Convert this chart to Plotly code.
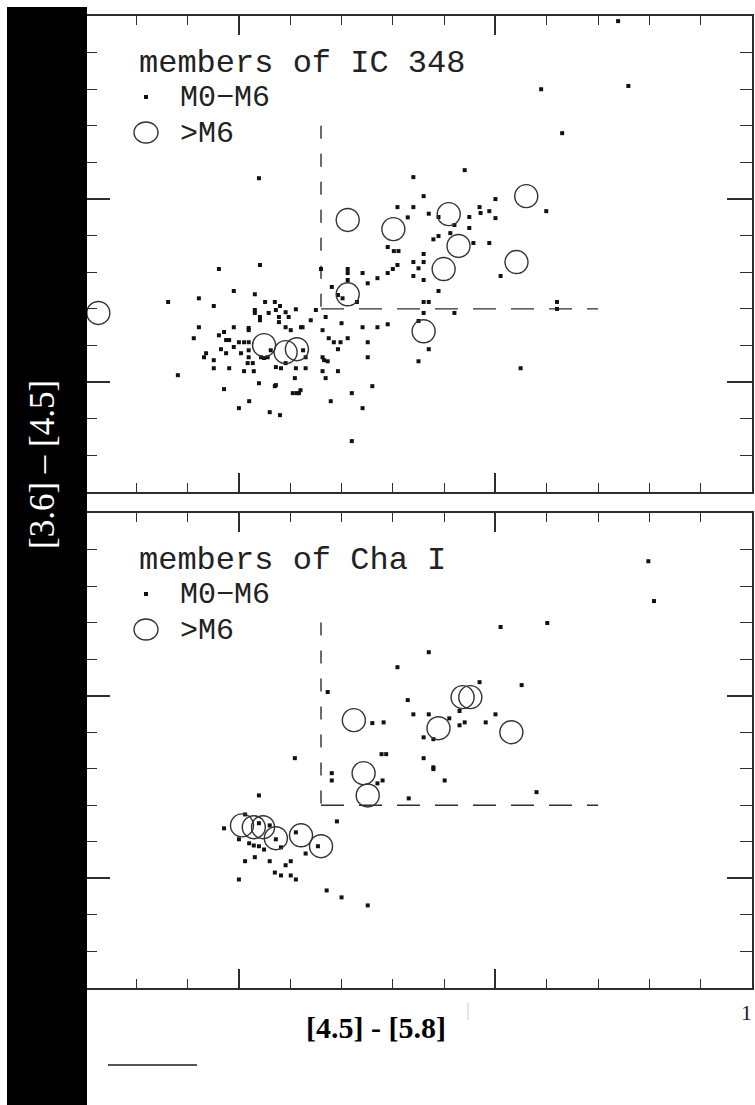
import plotly.graph_objects as go

# ---------------- data ----------------
# IC 348 : M0-M6 members (dots)  [4.5]-[5.8], [3.6]-[4.5]
ic_dots_x = [0.739, 0.589, 0.759, 0.630, 0.440, 0.340, 0.360, 0.599, 0.500, 0.309, 0.340, 0.329,
             0.370, 0.389, 0.449, 0.469, 0.471, 0.488, 0.500, 0.449, 0.412, 0.420, 0.379, 0.389,
             0.457, 0.488, 0.290, 0.302, 0.311, 0.360, 0.340, 0.360, 0.350, 0.340, 0.360, 0.309,
             0.300, 0.290, 0.270, 0.510, 0.389, 0.360, 0.370, 0.360, 0.420, 0.620, 0.620, 0.350,
             0.370, 0.350, 0.270, 0.290, 0.549, 0.260, 0.039,
             -0.039, 0.041, -0.138, -0.078, -0.049, -0.010, 0.031, -0.078, -0.088, -0.119, -0.029,
             0.000, 0.020, 0.060, 0.080, 0.039, 0.070, 0.109, 0.105, 0.120, 0.179, 0.220, 0.241,
             0.220, 0.160, 0.212, 0.212, 0.241, 0.181, 0.193, 0.202, 0.230, 0.251, 0.212,
             0.150, 0.169, 0.200, 0.241, 0.140, 0.124, 0.163, 0.175, 0.185, 0.193, 0.198, 0.212,
             0.251, 0.251, 0.163, 0.173, 0.163, 0.193, 0.169,
             0.051, 0.070, 0.080, 0.031, 0.031, 0.041, 0.041, 0.058, 0.072, 0.091, 0.111, 0.078,
             0.078, 0.097, 0.091, 0.101, 0.121,
             -0.010, -0.029, 0.019, 0.019, -0.039, -0.025, -0.019, 0.000, 0.010, 0.019, -0.010,
             -0.064, -0.068, -0.049, -0.035, -0.025, -0.049, -0.019, 0.004, 0.019, 0.019, 0.017,
             0.027, 0.010, 0.029, 0.043, 0.049, 0.056, 0.062, 0.072, 0.082, 0.091, 0.111, 0.130,
             0.125, 0.130, 0.166, 0.072, 0.113, 0.117]
ic_dots_y = [0.986, 0.800, 0.809, 0.680, 0.579, 0.560, 0.508, 0.467, 0.500, 0.478, 0.478, 0.450,
             0.460, 0.451, 0.451, 0.478, 0.462, 0.467, 0.448, 0.421, 0.407, 0.429, 0.390, 0.399,
             0.380, 0.380, 0.369, 0.358, 0.358, 0.350, 0.328, 0.328, 0.311, 0.290, 0.279, 0.320,
             0.309, 0.298, 0.284, 0.290, 0.249, 0.219, 0.219, 0.189, 0.189, 0.219, 0.200, 0.167,
             0.090, 0.057, 0.150, 0.158, 0.038, -0.011, 0.557,
             0.309, 0.320, 0.219, 0.229, 0.208, 0.249, 0.240, 0.150, 0.120, 0.019, -0.019,
             -0.071, -0.052, -0.082, -0.090, -0.003, -0.011, 0.011, -0.030, -0.022, -0.052, -0.030, -0.071,
             -0.161, 0.309, 0.309, 0.298, 0.298, 0.260, 0.238, 0.229, 0.219, 0.270, 0.279,
             0.197, 0.178, 0.161, 0.150, 0.169, 0.150, 0.142, 0.120, 0.109, 0.090, 0.109, 0.120,
             0.109, 0.068, 0.068, 0.057, 0.030, 0.030, 0.011,
             0.219, 0.219, 0.208, 0.197, 0.189, 0.178, 0.169, 0.189, 0.197, 0.191, 0.199, 0.178,
             0.164, 0.178, 0.150, 0.142, 0.150,
             0.150, 0.137, 0.148, 0.142, 0.128, 0.115, 0.115, 0.109, 0.109, 0.109, 0.096,
             0.079, 0.068, 0.060, 0.090, 0.079, 0.038, 0.038, 0.079, 0.087, 0.068, 0.052,
             0.052, 0.030, 0.030, 0.068, 0.066, 0.068, 0.087, 0.041, 0.038, 0.052, 0.038, 0.068,
             0.087, 0.038, 0.060, -0.008, -0.030, -0.030]

# IC 348 : >M6 members (open circles)
ic_late_x = [-0.274, 0.049, 0.091, 0.113, 0.212, 0.212, 0.301, 0.409, 0.560, 0.428, 0.399, 0.541, 0.360]
ic_late_y = [0.189, 0.101, 0.082, 0.090, 0.240, 0.443, 0.418, 0.459, 0.508, 0.372, 0.309, 0.328, 0.139]

# Cha I : M0-M6 members (dots)
cha_dots_x = [0.798, 0.809, 0.601, 0.510, 0.370, 0.309, 0.469, 0.551, 0.329, 0.340, 0.370, 0.430,
              0.410, 0.440, 0.430, 0.481, 0.500, 0.282, 0.260, 0.360, 0.379, 0.278, 0.287, 0.360,
              0.379, 0.379, 0.401, 0.280, 0.270, 0.331, 0.580, 0.109, 0.181, 0.181, 0.039, 0.191,
              0.173,
              0.012, -0.029, 0.039, 0.060, 0.000, 0.020, 0.029, 0.049, 0.039, 0.072, 0.082, 0.111,
              0.154, 0.130, 0.012, 0.031, 0.060, 0.091, 0.101, 0.070, 0.082, 0.101, 0.111, 0.000,
              0.171, 0.200, 0.251]
cha_dots_y = [0.868, 0.759, 0.699, 0.688, 0.619, 0.578, 0.537, 0.529, 0.488, 0.449, 0.449, 0.458,
              0.438, 0.427, 0.419, 0.427, 0.449, 0.427, 0.425, 0.386, 0.381, 0.340, 0.340, 0.329,
              0.304, 0.299, 0.268, 0.268, 0.260, 0.219, 0.236, 0.329, 0.288, 0.268, 0.227, 0.156,
              0.510,
              0.175, 0.137, 0.151, 0.145, 0.107, 0.096, 0.090, 0.079, 0.088, 0.107, 0.085, 0.126,
              0.088, 0.068, 0.047, 0.058, 0.047, 0.036, 0.047, 0.016, 0.008, 0.008, -0.003, -0.003,
              -0.033, -0.052, -0.074]

# Cha I : >M6 members (open circles)
cha_late_x = [0.006, 0.029, 0.047, 0.072, 0.121, 0.160, 0.224, 0.243, 0.251, 0.389, 0.436, 0.451, 0.531]
cha_late_y = [0.145, 0.140, 0.140, 0.110, 0.118, 0.088, 0.433, 0.288, 0.227, 0.411, 0.496, 0.496, 0.400]

# excess-emission boundary (dashed)
cut_x = 0.16      # [4.5]-[5.8] threshold
cut_y = 0.20      # [3.6]-[4.5] threshold
cut_x_end = 0.70  # extent of horizontal dashed line
cut_y_end = 0.70  # extent of vertical dashed line

panel_titles = ["members of IC 348", "members of Cha I"]
legend_labels = ["M0\u2212M6", ">M6"]
x_title = "[4.5] - [5.8]"
y_title = "[3.6] \u2013 [4.5]"
axis_range = [-0.3, 1.0]

# ---------------- layout helpers ----------------
W, H = 755, 1105
def px(x):
    return x / W
def py(y):
    return 1 - y / H

INK = "#2e2e2e"
fig = go.Figure()

panels = [("x", "y", ic_dots_x, ic_dots_y, ic_late_x, ic_late_y),
          ("x2", "y2", cha_dots_x, cha_dots_y, cha_late_x, cha_late_y)]
for xa, ya, dx, dy, lx, ly in panels:
    fig.add_trace(go.Scatter(x=[cut_x, cut_x], y=[cut_y_end, cut_y], mode="lines",
                             line=dict(color=INK, width=1.4, dash="13px,15px"),
                             xaxis=xa, yaxis=ya, showlegend=False, hoverinfo="skip"))
    fig.add_trace(go.Scatter(x=[cut_x, cut_x_end], y=[cut_y, cut_y], mode="lines",
                             line=dict(color=INK, width=1.4, dash="23px,15px"),
                             xaxis=xa, yaxis=ya, showlegend=False, hoverinfo="skip"))
    fig.add_trace(go.Scatter(x=dx, y=dy, mode="markers",
                             marker=dict(symbol="square", size=4, color="#111111"),
                             xaxis=xa, yaxis=ya, showlegend=False))
    fig.add_trace(go.Scatter(x=lx, y=ly, mode="markers",
                             marker=dict(symbol="circle-open", size=23, color="#333333",
                                         line=dict(width=1.4)),
                             xaxis=xa, yaxis=ya, showlegend=False))

xdom = [px(85), px(752)]
ydom_top = [py(492), py(16)]
ydom_bot = [py(988), py(513)]

def xaxis(anchor):
    return dict(domain=xdom, range=axis_range, anchor=anchor, showgrid=False, zeroline=False,
                showline=True, mirror="allticks", linecolor=INK, linewidth=1.5,
                ticks="inside", tick0=0, dtick=0.5, ticklen=19, tickwidth=1.5, tickcolor=INK,
                showticklabels=False,
                minor=dict(ticks="inside", tick0=0, dtick=0.1, ticklen=9, tickwidth=1.3,
                           tickcolor=INK, showgrid=False))

def yaxis(anchor, dom):
    return dict(domain=dom, range=axis_range, anchor=anchor, showgrid=False, zeroline=False,
                showline=True, mirror="allticks", linecolor=INK, linewidth=1.5,
                ticks="inside", tick0=0, dtick=0.5, ticklen=25, tickwidth=1.5, tickcolor=INK,
                showticklabels=False,
                minor=dict(ticks="inside", tick0=0, dtick=0.1, ticklen=12, tickwidth=1.3,
                           tickcolor=INK, showgrid=False))

annotations = []
shapes = []
mono = "Liberation Mono"
FS = 30
for top, title in [(16, panel_titles[0]), (513, panel_titles[1])]:
    annotations.append(dict(text=title, x=px(137), y=py(top + 47), xref="paper", yref="paper",
                            xanchor="left", yanchor="middle", showarrow=False,
                            font=dict(family=mono, size=FS + 2, color="#222")))
    annotations.append(dict(text=legend_labels[0], x=px(178), y=py(top + 82), xref="paper",
                            yref="paper", xanchor="left", yanchor="middle", showarrow=False,
                            font=dict(family=mono, size=FS, color="#222")))
    annotations.append(dict(text=legend_labels[1], x=px(178), y=py(top + 118), xref="paper",
                            yref="paper", xanchor="left", yanchor="middle", showarrow=False,
                            font=dict(family=mono, size=FS, color="#222")))
    shapes.append(dict(type="rect", xref="paper", yref="paper", x0=px(144), x1=px(148),
                       y0=py(top + 83), y1=py(top + 79), fillcolor="#111", line=dict(width=0)))
    shapes.append(dict(type="circle", xref="paper", yref="paper", x0=px(134), x1=px(158),
                       y0=py(top + 127), y1=py(top + 106), line=dict(color="#333", width=1.4)))

# black bar with white axis title
shapes.append(dict(type="rect", xref="paper", yref="paper", x0=px(7), x1=px(87),
                   y0=0, y1=py(7), fillcolor="black", line=dict(width=0), layer="above"))
annotations.append(dict(text=y_title, x=px(42), y=py(465), xref="paper", yref="paper",
                        textangle=-90, showarrow=False, xanchor="center", yanchor="middle",
                        font=dict(family="Liberation Serif", size=35, color="white")))
annotations.append(dict(text="<b>" + x_title + "</b>", x=px(376), y=py(1027), xref="paper",
                        yref="paper", showarrow=False, xanchor="center", yanchor="middle",
                        font=dict(family="Liberation Serif", size=30, color="black")))
annotations.append(dict(text="1", x=px(754), y=py(1012), xref="paper", yref="paper",
                        showarrow=False, xanchor="right", yanchor="middle",
                        font=dict(family="Liberation Serif", size=22, color="#222")))
shapes.append(dict(type="line", xref="paper", yref="paper", x0=px(108), x1=px(197),
                   y0=py(1065), y1=py(1065), line=dict(color="#555", width=2)))
shapes.append(dict(type="line", xref="paper", yref="paper", x0=px(468), x1=px(468),
                   y0=py(1003), y1=py(1020), line=dict(color="#ccc", width=1)))

fig.update_layout(
    width=W, height=H, margin=dict(l=0, r=0, t=0, b=0),
    paper_bgcolor="white", plot_bgcolor="white", showlegend=False,
    xaxis=xaxis("y"), yaxis=yaxis("x", ydom_top),
    xaxis2=xaxis("y2"), yaxis2=yaxis("x2", ydom_bot),
    annotations=annotations, shapes=shapes,
)

fig.write_html("out.html")
